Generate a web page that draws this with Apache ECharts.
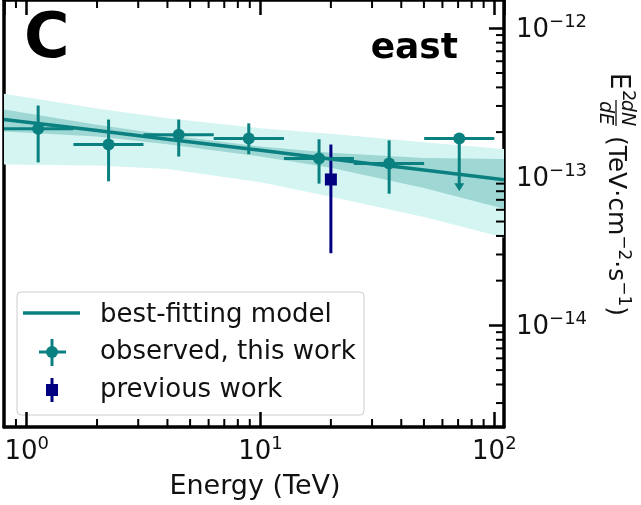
<!DOCTYPE html>
<html><head><meta charset="utf-8">
<script src="https://cdn.jsdelivr.net/npm/echarts@6/dist/echarts.min.js"></script>
<style>html,body{margin:0;padding:0;background:#fff}#c{width:641px;height:505px}</style>
</head><body><div id="c"></div>
<script>
// ---- data ----
const binCenters = [1.12, 2.24, 4.47, 8.91, 17.8, 35.5, 70.8];
const binLow     = [0.79, 1.585, 3.16, 6.31, 12.6, 25.1, 50.1];
const binHigh    = [1.585, 3.16, 6.31, 12.6, 25.1, 50.1, 100];
const fluxObs     = [2.11e-13, 1.65e-13, 1.92e-13, 1.81e-13, 1.33e-13, 1.23e-13, 1.81e-13];
const fluxObsHigh = [3.02e-13, 2.43e-13, 2.43e-13, 2.29e-13, 1.79e-13, 1.76e-13, null];
const fluxObsLow  = [1.25e-13, 9.33e-14, 1.37e-13, 1.42e-13, 9.0e-14, 7.7e-14, 8.0e-14];
const upperLimit  = [false, false, false, false, false, false, true];

const prevEnergy = [20.0];
const prevFlux   = [9.6e-14];
const prevLow    = [3.06e-14];
const prevHigh   = [1.65e-13];

const modelEnergy = [0.8, 2, 4, 10, 20, 50, 110];
const modelFlux   = [2.43e-13, 2.05e-13, 1.79e-13, 1.51e-13, 1.32e-13, 1.11e-13, 9.55e-14];
const band1Low    = [2.02e-13, 1.87e-13, 1.66e-13, 1.37e-13, 1.15e-13, 8.40e-14, 6.10e-14];
const band1High   = [2.84e-13, 2.24e-13, 1.91e-13, 1.60e-13, 1.45e-13, 1.34e-13, 1.32e-13];
const band2Low    = [1.21e-13, 1.19e-13, 1.13e-13, 9.19e-14, 7.35e-14, 5.37e-14, 3.90e-14];
const band2High   = [3.63e-13, 2.88e-13, 2.48e-13, 2.12e-13, 1.95e-13, 1.71e-13, 1.54e-13];

const xMin = 0.8, xMax = 110;
const yMin = 2.07e-15, yMax = 1.55e-12;
const xMinorTicks = [0.9, 2, 3, 4, 5, 6, 7, 8, 9, 20, 30, 40, 50, 60, 70, 80, 90];
const yMinorTicks = [3e-15, 4e-15, 5e-15, 6e-15, 7e-15, 8e-15, 9e-15,
  2e-14, 3e-14, 4e-14, 5e-14, 6e-14, 7e-14, 8e-14, 9e-14,
  2e-13, 3e-13, 4e-13, 5e-13, 6e-13, 7e-13, 8e-13, 9e-13];

const legendLabels = ['best-fitting model', 'observed, this work', 'previous work'];
const panelLetter = 'C';
const panelRegion = 'east';
const xTitle = 'Energy (TeV)';

// ---- styling ----
const F = 'DejaVu Sans';
const TEAL = '#0b8080';
const NAVY = '#000080';
const LIGHT = '#d5f5f2';
const DARK = '#9ed7d3';
const TXT = '#111';

function powLabel(v) {
  const l = Math.log10(v);
  const e = Math.round(l);
  if (Math.abs(l - e) > 1e-6) return '';
  return '{b|10}{s|' + (e < 0 ? '\u2212' + (-e) : String(e)) + '}';
}
const labelRich = {
  b: {fontSize: 26, fontFamily: F, color: TXT, verticalAlign: 'bottom', lineHeight: 30},
  s: {fontSize: 18, fontFamily: F, color: TXT, verticalAlign: 'bottom', padding: [0, 0, 12, 0], lineHeight: 18}
};

function bandSeries(lowArr, highArr, color) {
  return {
    type: 'custom', clip: true, silent: true,
    data: [[modelEnergy[0], lowArr[0]]],
    renderItem: function (params, api) {
      const pts = [];
      for (let i = 0; i < modelEnergy.length; i++) pts.push(api.coord([modelEnergy[i], highArr[i]]));
      for (let i = modelEnergy.length - 1; i >= 0; i--) pts.push(api.coord([modelEnergy[i], lowArr[i]]));
      return {type: 'polygon', shape: {points: pts}, style: {fill: color}};
    }
  };
}

const obsData = binCenters.map((x, i) => [x, fluxObs[i], binLow[i], binHigh[i], fluxObsLow[i],
  fluxObsHigh[i] == null ? fluxObs[i] : fluxObsHigh[i], upperLimit[i] ? 1 : 0]);
const prevData = prevEnergy.map((x, i) => [x, prevFlux[i], prevLow[i], prevHigh[i]]);

const option = {
  animation: false,
  backgroundColor: '#fff',
  grid: {left: 4, right: 137, top: -2, bottom: 78, containLabel: false},
  xAxis: [{
    type: 'log', logBase: 10, min: xMin, max: xMax, position: 'bottom',
    axisLine: {onZero: false, lineStyle: {color: '#000', width: 3.5}},
    axisTick: {inside: true, length: 15, lineStyle: {color: '#000', width: 2.5}},
    minorTick: {show: false},
    splitLine: {show: false},
    axisLabel: {formatter: powLabel, rich: labelRich, margin: 8, showMinLabel: false, showMaxLabel: false}
  }, {
    type: 'log', logBase: 10, min: xMin, max: xMax, position: 'top',
    axisLine: {onZero: false, lineStyle: {color: '#000', width: 3.5}},
    axisTick: {inside: true, length: 15, lineStyle: {color: '#000', width: 2.5}},
    splitLine: {show: false}, axisLabel: {show: false}
  }],
  yAxis: [{
    type: 'log', logBase: 10, min: yMin, max: yMax, position: 'right',
    axisLine: {onZero: false, lineStyle: {color: '#000', width: 3.5}},
    axisTick: {inside: true, length: 15, lineStyle: {color: '#000', width: 2.5}},
    splitLine: {show: false},
    axisLabel: {formatter: powLabel, rich: labelRich, margin: 12, showMinLabel: false, showMaxLabel: false}
  }, {
    type: 'log', logBase: 10, min: yMin, max: yMax, position: 'left',
    axisLine: {onZero: false, lineStyle: {color: '#000', width: 3.5}},
    axisTick: {show: false}, splitLine: {show: false}, axisLabel: {show: false}
  }],
  series: [
    bandSeries(band2Low, band2High, LIGHT),
    bandSeries(band1Low, band1High, DARK),
    {
      type: 'line', data: modelEnergy.map((x, i) => [x, modelFlux[i]]),
      showSymbol: false, symbol: 'none', clip: true,
      lineStyle: {color: TEAL, width: 3.5}
    },
    {
      type: 'custom', clip: true, data: obsData,
      renderItem: function (params, api) {
        const x = api.value(0), y = api.value(1);
        const c = api.coord([x, y]);
        const l = api.coord([api.value(2), y]);
        const r = api.coord([api.value(3), y]);
        const lo = api.coord([x, api.value(4)]);
        const hi = api.coord([x, api.value(5)]);
        const ul = api.value(6) === 1;
        const st = {stroke: TEAL, lineWidth: 3};
        const ch = [
          {type: 'line', shape: {x1: l[0], y1: c[1], x2: r[0], y2: c[1]}, style: st},
          {type: 'line', shape: {x1: c[0], y1: hi[1], x2: c[0], y2: ul ? lo[1] - 6 : lo[1]}, style: st}
        ];
        if (ul) ch.push({type: 'polygon', shape: {points: [[c[0] - 5, lo[1] - 8], [c[0] + 5, lo[1] - 8], [c[0], lo[1]]]}, style: {fill: TEAL}});
        ch.push({type: 'circle', shape: {cx: c[0], cy: c[1], r: 6}, style: {fill: TEAL}});
        return {type: 'group', children: ch};
      }
    },
    {
      type: 'custom', clip: true, data: prevData,
      renderItem: function (params, api) {
        const x = api.value(0);
        const c = api.coord([x, api.value(1)]);
        const lo = api.coord([x, api.value(2)]);
        const hi = api.coord([x, api.value(3)]);
        return {type: 'group', children: [
          {type: 'line', shape: {x1: c[0], y1: hi[1], x2: c[0], y2: lo[1]}, style: {stroke: NAVY, lineWidth: 3}},
          {type: 'rect', shape: {x: c[0] - 6, y: c[1] - 6, width: 12, height: 12}, style: {fill: NAVY}}
        ]};
      }
    },
    {
      type: 'custom', clip: false, silent: true,
      data: xMinorTicks.map(v => [v, yMin]),
      renderItem: function (params, api) {
        const b = api.coord([api.value(0), yMin]);
        const t = api.coord([api.value(0), yMax]);
        const st = {stroke: '#000', lineWidth: 2};
        return {type: 'group', children: [
          {type: 'line', shape: {x1: b[0], y1: b[1], x2: b[0], y2: b[1] - 8}, style: st},
          {type: 'line', shape: {x1: t[0], y1: t[1], x2: t[0], y2: t[1] + 8}, style: st}
        ]};
      }
    },
    {
      type: 'custom', clip: false, silent: true,
      data: yMinorTicks.map(v => [xMax, v]),
      renderItem: function (params, api) {
        const p = api.coord([xMax, api.value(1)]);
        return {type: 'line', shape: {x1: p[0], y1: p[1], x2: p[0] - 8, y2: p[1]}, style: {stroke: '#000', lineWidth: 2}};
      }
    }
  ],
  graphic: [
    {type: 'text', left: 24, top: 10, style: {text: panelLetter, font: 'bold 62px "DejaVu Sans"', fill: '#000'}, z: 100},
    {type: 'text', x: 458, y: 49, style: {text: panelRegion, font: 'bold 36px "DejaVu Sans"', fill: '#000', align: 'right', verticalAlign: 'middle'}, z: 100},
    {type: 'text', x: 255, y: 487, style: {text: xTitle, font: '27px "DejaVu Sans"', fill: TXT, align: 'center', verticalAlign: 'middle'}, z: 100},
    {
      type: 'group', x: 618, y: 195, rotation: -Math.PI / 2, z: 100,
      children: [
        {type: 'text', x: -122, y: 0, style: {text: 'E', font: '26px "DejaVu Sans"', fill: TXT, align: 'left', verticalAlign: 'middle'}},
        {type: 'text', x: -105, y: -10, style: {text: '2', font: '18px "DejaVu Sans"', fill: TXT, align: 'left', verticalAlign: 'middle'}},
        {type: 'text', x: -82, y: -9, style: {text: 'dN', font: 'italic 19px "DejaVu Sans"', fill: TXT, align: 'center', verticalAlign: 'middle'}},
        {type: 'line', shape: {x1: -95, y1: 2, x2: -69, y2: 2}, style: {stroke: TXT, lineWidth: 1.3}},
        {type: 'text', x: -82, y: 13, style: {text: 'dE', font: 'italic 19px "DejaVu Sans"', fill: TXT, align: 'center', verticalAlign: 'middle'}},
        {type: 'text', x: -67, y: 0, style: {
          text: '{b| (TeV\u00b7cm}{s|\u22122}{b|\u00b7s}{s|\u22121}{b|)}', align: 'left', verticalAlign: 'middle',
          rich: {
            b: {fontSize: 25, fontFamily: F, fill: TXT, verticalAlign: 'bottom', lineHeight: 30},
            s: {fontSize: 17, fontFamily: F, fill: TXT, verticalAlign: 'bottom', padding: [0, 0, 12, 0], lineHeight: 17}
          }
        }}
      ]
    },
    {
      type: 'group', z: 100, children: [
        {type: 'rect', shape: {x: 17, y: 292, width: 347, height: 123, r: 4}, style: {fill: 'rgba(255,255,255,0.8)', stroke: '#cccccc', lineWidth: 1}},
        {type: 'line', shape: {x1: 23, y1: 313, x2: 80, y2: 313}, style: {stroke: TEAL, lineWidth: 3.5}},
        {type: 'line', shape: {x1: 52, y1: 339, x2: 52, y2: 366}, style: {stroke: TEAL, lineWidth: 3}},
        {type: 'line', shape: {x1: 39, y1: 352, x2: 66, y2: 352}, style: {stroke: TEAL, lineWidth: 3}},
        {type: 'circle', shape: {cx: 52, cy: 352, r: 6}, style: {fill: TEAL}},
        {type: 'line', shape: {x1: 52, y1: 378, x2: 52, y2: 402}, style: {stroke: NAVY, lineWidth: 3}},
        {type: 'rect', shape: {x: 46, y: 384, width: 12, height: 12}, style: {fill: NAVY}},
        {type: 'text', x: 100, y: 315, style: {text: legendLabels[0], font: '26px "DejaVu Sans"', fill: TXT, verticalAlign: 'middle'}},
        {type: 'text', x: 100, y: 352, style: {text: legendLabels[1], font: '26px "DejaVu Sans"', fill: TXT, verticalAlign: 'middle'}},
        {type: 'text', x: 100, y: 390, style: {text: legendLabels[2], font: '26px "DejaVu Sans"', fill: TXT, verticalAlign: 'middle'}}
      ]
    }
  ]
};
const chart = echarts.init(document.getElementById('c'), null, {renderer: 'canvas'});
chart.setOption(option);
</script></body></html>
